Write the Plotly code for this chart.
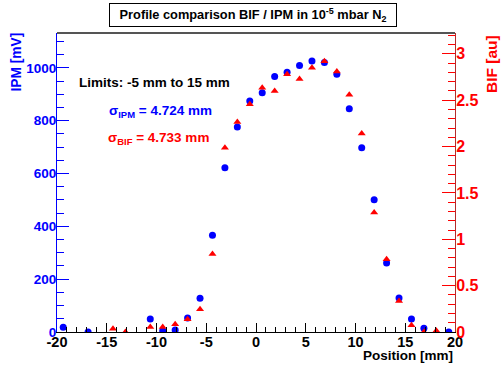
import plotly.graph_objects as go

# Data
ipm_pos = [-19.375, -16.875, -10.625, -9.375, -8.125, -6.875, -5.625, -4.375, -3.125,
           -1.875, -0.625, 0.625, 1.875, 3.125, 4.375, 5.625, 6.875, 8.125, 9.375,
           10.625, 11.875, 13.125, 14.375, 15.625, 16.875, 19.375]
ipm_val = [18, 0, 49, 5, 8, 53, 128, 366, 622,
           776, 875, 906, 967, 983, 1009, 1026, 1020, 976, 845,
           698, 501, 261, 129, 49, 14, 0]

bif_pos = [-14.375, -13.125, -10.625, -9.375, -8.125, -6.875, -5.625, -4.375, -3.125,
           -1.875, -0.625, 0.625, 1.875, 3.125, 4.375, 5.625, 6.875, 8.125, 9.375,
           10.625, 11.875, 13.125, 14.375, 15.625, 16.875, 18.125]
bif_val = [0.036, 0.0, 0.054, 0.054, 0.083, 0.137, 0.245, 0.841, 1.988,
           2.265, 2.456, 2.635, 2.60, 2.78, 2.73, 2.85, 2.92, 2.81, 2.56,
           2.14, 1.29, 0.784, 0.334, 0.072, 0.0, 0.014]

x_ticks = [-20, -15, -10, -5, 0, 5, 10, 15, 20]
y1_ticks = [0, 200, 400, 600, 800, 1000]
y2_ticks = [0, 0.5, 1, 1.5, 2, 2.5, 3]

FONT = "Liberation Sans"
BLUE = "#0000ff"
RED = "#ff0000"


def bold(vals):
    return ["<b>%s</b>" % v for v in vals]


fig = go.Figure()
fig.add_trace(go.Scatter(x=ipm_pos, y=ipm_val, mode="markers", yaxis="y",
                         marker=dict(symbol="circle", size=7, color=BLUE, line=dict(width=0)),
                         showlegend=False))
fig.add_trace(go.Scatter(x=bif_pos, y=bif_val, mode="markers", yaxis="y2",
                         marker=dict(symbol="triangle-up", size=7, color=RED, line=dict(width=0)),
                         showlegend=False))

fig.update_layout(
    width=501, height=365,
    margin=dict(l=57, r=46, t=33, b=33),
    paper_bgcolor="white", plot_bgcolor="white",
    font=dict(family=FONT, size=13),
    xaxis=dict(range=[-20, 20], tickvals=x_ticks, ticktext=bold(x_ticks),
               showgrid=False, zeroline=False, showline=True, linecolor="black", linewidth=1,
               ticks="inside", ticklen=9, tickwidth=1, tickcolor="black",
               minor=dict(ticks="inside", ticklen=5, dtick=1, tickcolor="black", tickwidth=1),
               ticklabelstandoff=-3,
               tickfont=dict(family=FONT, size=14.5, color="black")),
    yaxis=dict(range=[0, 1132], tickvals=y1_ticks, ticktext=bold(y1_ticks),
               showgrid=False, zeroline=False, showline=True, linecolor=BLUE, linewidth=1,
               ticks="inside", ticklen=12, tickwidth=1, tickcolor=BLUE,
               minor=dict(ticks="inside", ticklen=7, dtick=50, tickcolor=BLUE, tickwidth=1),
               ticklabelstandoff=-3,
               tickfont=dict(family=FONT, size=13.5, color=BLUE)),
    yaxis2=dict(range=[0, 3.225], tickvals=y2_ticks, ticktext=bold(y2_ticks),
                overlaying="y", side="right", anchor="x",
                showgrid=False, zeroline=False, showline=True, linecolor="#b52a2a", linewidth=1,
                ticks="inside", ticklen=13, tickwidth=1, tickcolor=RED,
                minor=dict(ticks="inside", ticklen=7, dtick=0.1, tickcolor=RED, tickwidth=1),
                ticklabelstandoff=-3,
                tickfont=dict(family=FONT, size=16, color=RED)),
    shapes=[dict(type="line", xref="paper", yref="paper", x0=0, x1=1, y0=1, y1=1,
                 line=dict(color="#555555", width=2))],
    annotations=[
        dict(text="<b>Profile comparison BIF / IPM in 10<sup>-5</sup> mbar N<sub>2</sub></b>",
             xref="paper", yref="paper", x=0.4925, y=1.060, xanchor="center", yanchor="middle",
             showarrow=False, bordercolor="black", borderwidth=1, borderpad=1, bgcolor="white",
             width=284, height=20,
             font=dict(family=FONT, size=12.8, color="black")),
        dict(text="<b>IPM [mV]</b>", xref="paper", yref="paper", x=-0.1005, y=0.901,
             xanchor="center", yanchor="middle", textangle=-90, showarrow=False,
             font=dict(family=FONT, size=13.8, color=BLUE)),
        dict(text="<b>BIF [au]</b>", xref="paper", yref="paper", x=1.092, y=0.895,
             xanchor="center", yanchor="middle", textangle=-90, showarrow=False,
             font=dict(family=FONT, size=15.5, color=RED)),
        dict(text="<b>Position [mm]</b>", xref="paper", yref="paper", x=1.0, y=-0.0786,
             xanchor="right", yanchor="middle", showarrow=False,
             font=dict(family=FONT, size=13.5, color="black")),
        dict(text="<b>Limits: -5 mm to 15 mm</b>", xref="paper", yref="paper", x=0.05, y=0.833,
             xanchor="left", yanchor="middle", showarrow=False,
             font=dict(family=FONT, size=13.5, color="black")),
        dict(text="<b>σ<sub>IPM</sub> = 4.724 mm</b>", xref="paper", yref="paper", x=0.1256, y=0.739,
             xanchor="left", yanchor="middle", showarrow=False,
             font=dict(family=FONT, size=13.5, color=BLUE)),
        dict(text="<b>σ<sub>BIF</sub> = 4.733 mm</b>", xref="paper", yref="paper", x=0.123, y=0.647,
             xanchor="left", yanchor="middle", showarrow=False,
             font=dict(family=FONT, size=13.5, color=RED)),
    ],
)

fig.write_html("out.html")
